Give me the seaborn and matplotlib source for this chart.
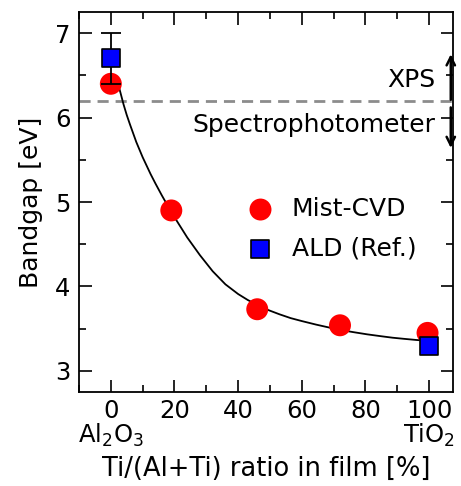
import matplotlib
matplotlib.use("Agg")
import matplotlib.pyplot as plt
import seaborn as sns
import pandas as pd
from matplotlib.ticker import MultipleLocator

# Data
mist_x = [0, 19, 46, 72, 99.5]
mist_y = [6.40, 4.90, 3.73, 3.54, 3.45]
ald_x = [0, 100]
ald_y = [6.70, 3.30]
ald_err = [0.30, 0.0]

fit_x = [2.5, 4, 5, 6, 7, 8, 9, 10, 11, 12.5, 14, 16, 17.5, 19, 21.5, 24, 28, 32,
         36, 40, 43, 46, 49.5, 53, 56.5, 60, 64.5, 69, 72.5, 76, 80.5, 85, 88.5,
         92, 96, 100]
fit_y = [6.37, 6.155, 6.03, 5.92, 5.815, 5.71, 5.62, 5.53, 5.45, 5.33, 5.22, 5.08,
         4.98, 4.88, 4.73, 4.58, 4.37, 4.18, 4.025, 3.91, 3.84, 3.78, 3.72, 3.67,
         3.625, 3.59, 3.548, 3.51, 3.483, 3.46, 3.433, 3.41, 3.393, 3.38, 3.366, 3.355]

boundary_y = 6.2
xtick_vals = [0, 20, 40, 60, 80, 100]
xtick_labels = ["0\nAl$_2$O$_3$", "20", "40", "60", "80", "100\nTiO$_2$"]
ytick_vals = [3, 4, 5, 6, 7]

sns.set_theme(style="ticks")
plt.rcParams["font.family"] = ["DejaVu Sans"]
plt.rcParams["mathtext.default"] = "regular"
for k in ["text.color", "axes.labelcolor", "xtick.color", "ytick.color", "axes.edgecolor"]:
    plt.rcParams[k] = "black"
FS = 18
TFS = 17.5

fig = plt.figure(figsize=(4.61, 4.86), dpi=100)
ax = fig.add_axes([79/461, 1-392/486, (453-79)/461, (392-12)/486])

mist_df = pd.DataFrame({"x": mist_x, "y": mist_y})
ald_df = pd.DataFrame({"x": ald_x, "y": ald_y})
fit_df = pd.DataFrame({"x": fit_x, "y": fit_y})

ax.axhline(boundary_y, color="#8c8c8c", lw=2, ls=(0, (4, 2.5)), zorder=1)
sns.lineplot(data=fit_df, x="x", y="y", sort=False, estimator=None, color="black",
             lw=1.3, ax=ax, zorder=2)
sns.scatterplot(data=mist_df, x="x", y="y", marker="o", s=250, color="#ff0000",
                edgecolor="none", linewidth=0, ax=ax, zorder=3, label="Mist-CVD")
ax.errorbar(ald_x[:1], ald_y[:1], yerr=ald_err[:1], fmt="none", ecolor="black",
            elinewidth=1.3, capsize=7, capthick=1.3, zorder=4)
sns.scatterplot(data=ald_df, x="x", y="y", marker="s", s=170, color="#0000ff",
                edgecolor="black", linewidth=1.2, ax=ax, zorder=5, label="ALD (Ref.)")

ax.set_xlim(-10, 107.5)
ax.set_ylim(2.75, 7.25)
ax.set_xticks(xtick_vals)
ax.set_xticklabels(xtick_labels, fontsize=TFS, linespacing=0.95)
ax.set_yticks(ytick_vals)
ax.set_yticklabels([str(v) for v in ytick_vals], fontsize=TFS)
ax.xaxis.set_minor_locator(MultipleLocator(10))
ax.yaxis.set_minor_locator(MultipleLocator(0.5))
ax.tick_params(which="both", direction="in", top=True, right=True, width=1.2,
               colors="black")
ax.tick_params(axis="x", which="major", pad=5)
ax.tick_params(axis="y", which="major", pad=6)
ax.tick_params(which="major", length=9)
ax.tick_params(which="minor", length=5)
for sp in ax.spines.values():
    sp.set_linewidth(1.3)
    sp.set_color("black")

ax.set_xlabel("Ti/(Al+Ti) ratio in film [%]", fontsize=18.5, labelpad=5)
ax.set_ylabel("Bandgap [eV]", fontsize=FS, labelpad=9)

ax.text(102, 6.44, "XPS", fontsize=FS, ha="right", va="center")
ax.text(102, 5.91, "Spectrophotometer", fontsize=FS, ha="right", va="center")
ax.annotate("", xy=(106.8, 6.75), xytext=(106.8, 6.21),
            arrowprops=dict(arrowstyle="->", lw=1.8, color="black",
                            mutation_scale=15, shrinkA=0, shrinkB=0))
ax.annotate("", xy=(106.8, 5.64), xytext=(106.8, 6.12),
            arrowprops=dict(arrowstyle="->", lw=1.8, color="black",
                            mutation_scale=15, shrinkA=0, shrinkB=0))

ax.legend(loc="center left", bbox_to_anchor=(0.385, 0.43), frameon=False,
          fontsize=FS, handletextpad=0.25, labelspacing=0.6, borderpad=0)

fig.savefig("out.png", dpi=100)
